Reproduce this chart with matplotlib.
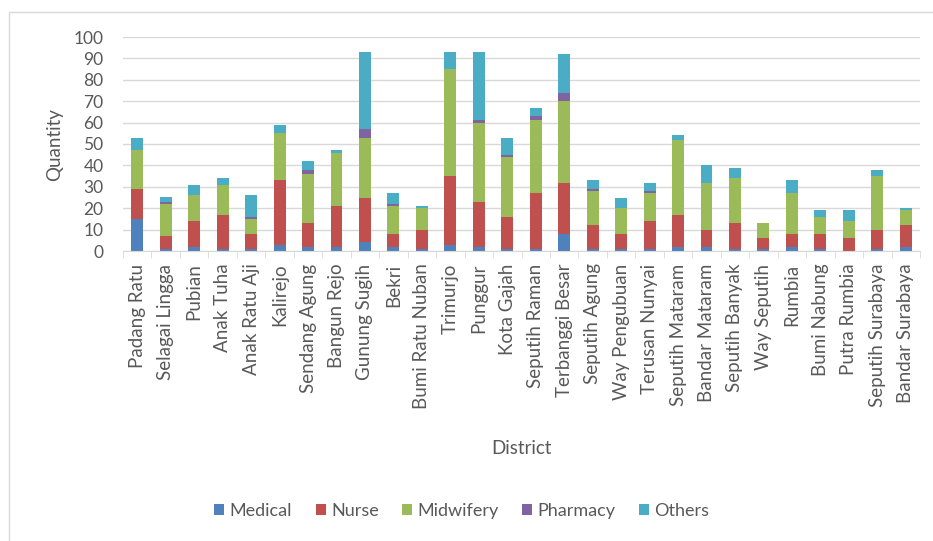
import matplotlib
matplotlib.use("Agg")
from matplotlib import pyplot as plt
from matplotlib.patches import Rectangle
import numpy as np

districts = ["Padang Ratu", "Selagai Lingga", "Pubian", "Anak Tuha", "Anak Ratu Aji",
             "Kalirejo", "Sendang Agung", "Bangun Rejo", "Gunung Sugih", "Bekri",
             "Bumi Ratu Nuban", "Trimurjo", "Punggur", "Kota Gajah", "Seputih Raman",
             "Terbanggi Besar", "Seputih Agung", "Way Pengubuan", "Terusan Nunyai",
             "Seputih Mataram", "Bandar Mataram", "Seputih Banyak", "Way Seputih",
             "Rumbia", "Bumi Nabung", "Putra Rumbia", "Seputih Surabaya", "Bandar Surabaya"]

medical   = [15, 1, 2, 1, 1, 3, 2, 2, 4, 2, 1, 3, 2, 1, 1, 8, 1, 1, 1, 2, 2, 1, 1, 2, 1, 0, 1, 2]
nurse     = [14, 6, 12, 16, 7, 30, 11, 19, 21, 6, 9, 32, 21, 15, 26, 24, 11, 7, 13, 15, 8, 12, 5, 6, 7, 6, 9, 10]
midwifery = [18, 15, 12, 14, 7, 22, 23, 25, 28, 13, 10, 50, 37, 28, 34, 38, 16, 12, 13, 35, 22, 21, 7, 19, 8, 8, 25, 7]
pharmacy  = [0, 1, 0, 0, 1, 0, 2, 0, 4, 1, 0, 0, 1, 1, 2, 4, 1, 0, 1, 0, 0, 0, 0, 0, 0, 0, 0, 0]
others    = [6, 2, 5, 3, 10, 4, 4, 1, 36, 5, 1, 8, 32, 8, 4, 18, 4, 5, 4, 2, 8, 5, 0, 6, 3, 5, 3, 1]

series = [("Medical", medical, "#4F81BD"),
          ("Nurse", nurse, "#C0504D"),
          ("Midwifery", midwifery, "#9BBB59"),
          ("Pharmacy", pharmacy, "#8064A2"),
          ("Others", others, "#4BACC6")]

txt = "#595959"
plt.rcParams["font.family"] = ["Lato", "DejaVu Sans"]

fig = plt.figure(figsize=(9.33, 5.41), dpi=100)
ax = fig.add_axes([123 / 933, 1 - 251 / 541, (920 - 123) / 933, (251 - 37) / 541])

# chart frame
fig.patches.append(Rectangle((9 / 933, -0.05), 1.1, 1 - 12 / 541 + 0.05,
                             transform=fig.transFigure, fill=False,
                             edgecolor="#D9D9D9", linewidth=1))

x = np.arange(len(districts))
bottom = np.zeros(len(districts))
for name, vals, col in series:
    ax.bar(x, vals, 0.42, bottom=bottom, color=col, label=name, zorder=3)
    bottom += np.array(vals)

ax.set_xlim(-0.5, len(districts) - 0.5)
ax.set_ylim(0, 100)
ax.set_yticks(np.arange(0, 101, 10))
ax.yaxis.grid(True, color="#D9D9D9", linewidth=1, zorder=0)
for s in ["left", "right", "top"]:
    ax.spines[s].set_visible(False)
ax.spines["bottom"].set_color("#D9D9D9")
ax.spines["bottom"].set_zorder(4)

ax.set_xticks(x)
ax.set_xticklabels(districts, rotation=90, va="top")
ax.set_xticks(np.arange(-0.5, len(districts), 1), minor=True)
ax.tick_params(axis="x", which="major", length=0, pad=9, labelsize=13.5, labelcolor=txt)
ax.tick_params(axis="x", which="minor", length=5, color="#D9D9D9")
ax.tick_params(axis="y", length=0, pad=14, labelsize=12.5, labelcolor=txt)

fig.text(55 / 933, 1 - 145 / 541, "Quantity", rotation=90, ha="center", va="center",
         fontsize=13.5, color=txt)
fig.text(521 / 933, 1 - 448 / 541, "District", ha="center", va="center",
         fontsize=13.5, color=txt)

fig.legend(loc="center", bbox_to_anchor=(462 / 933, 1 - 511 / 541), ncol=5,
           frameon=False, fontsize=13, labelcolor=txt, handlelength=0.55,
           handleheight=0.55, handletextpad=0.3, columnspacing=1.3)

fig.savefig("out.png", dpi=100)
